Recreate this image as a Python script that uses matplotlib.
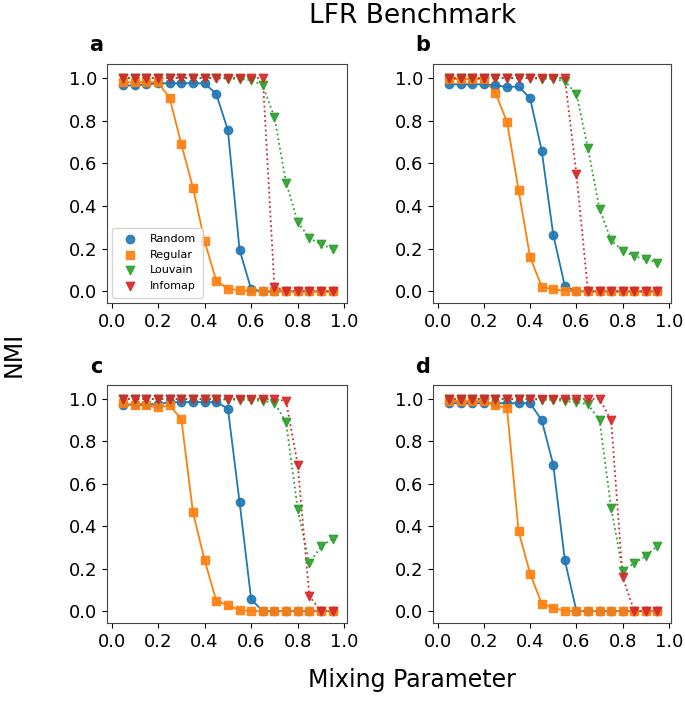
import numpy as np
import matplotlib
matplotlib.use('Agg')
import matplotlib.pyplot as plt

# Mixing parameter values (x axis)
mu = [0.05, 0.10, 0.15, 0.20, 0.25, 0.30, 0.35, 0.40, 0.45, 0.50,
      0.55, 0.60, 0.65, 0.70, 0.75, 0.80, 0.85, 0.90, 0.95]

# Panel a
a_random = [0.965, 0.965, 0.97, 0.975, 0.975, 0.975, 0.975, 0.975, 0.925, 0.755,
            0.195, 0.01, 0, 0, 0, 0, 0, 0, 0]
a_regular = [0.98, 0.98, 0.98, 0.98, 0.905, 0.69, 0.485, 0.235, 0.05, 0.012,
             0.005, 0, 0, 0, 0, 0, 0, 0, 0]
a_louvain = [1.0, 1.0, 1.0, 1.0, 1.0, 1.0, 1.0, 1.0, 0.998, 0.997,
             0.995, 0.99, 0.965, 0.815, 0.51, 0.325, 0.25, 0.22, 0.20]
a_infomap = [1.0, 1.0, 1.0, 1.0, 1.0, 1.0, 1.0, 1.0, 1.0, 1.0,
             1.0, 1.0, 1.0, 0.02, 0, 0, 0, 0, 0]

# Panel b
b_random = [0.97, 0.97, 0.97, 0.97, 0.965, 0.958, 0.96, 0.905, 0.66, 0.265,
            0.025, 0, 0, 0, 0, 0, 0, 0, 0]
b_regular = [0.995, 0.995, 0.995, 0.995, 0.93, 0.795, 0.475, 0.16, 0.022, 0.01,
             0.003, 0, 0, 0, 0, 0, 0, 0, 0]
b_louvain = [1.0, 1.0, 1.0, 1.0, 1.0, 1.0, 1.0, 0.998, 0.997, 0.995,
             0.985, 0.925, 0.67, 0.385, 0.24, 0.19, 0.165, 0.15, 0.135]
b_infomap = [1.0, 1.0, 1.0, 1.0, 1.0, 1.0, 1.0, 1.0, 1.0, 1.0,
             1.0, 0.55, 0, 0, 0, 0, 0, 0, 0]

# Panel c
c_random = [0.97, 0.975, 0.975, 0.975, 0.985, 0.985, 0.985, 0.985, 0.985, 0.955,
            0.515, 0.055, 0, 0, 0, 0, 0, 0, 0]
c_regular = [0.98, 0.97, 0.97, 0.96, 0.97, 0.905, 0.465, 0.24, 0.05, 0.027,
             0.005, 0, 0, 0, 0, 0, 0, 0, 0]
c_louvain = [1.0, 1.0, 1.0, 1.0, 1.0, 1.0, 1.0, 0.999, 0.998, 0.997,
             0.996, 0.995, 0.99, 0.983, 0.89, 0.48, 0.225, 0.305, 0.34]
c_infomap = [1.0, 1.0, 1.0, 1.0, 1.0, 1.0, 1.0, 1.0, 1.0, 1.0,
             1.0, 1.0, 1.0, 1.0, 0.99, 0.69, 0.07, 0, 0]

# Panel d
d_random = [0.98, 0.98, 0.98, 0.98, 0.98, 0.98, 0.98, 0.98, 0.90, 0.69,
            0.24, 0, 0, 0, 0, 0, 0, 0, 0]
d_regular = [0.99, 0.99, 0.99, 0.99, 0.97, 0.957, 0.377, 0.177, 0.035, 0.014,
             0.002, 0, 0, 0, 0, 0, 0, 0, 0]
d_louvain = [1.0, 1.0, 1.0, 1.0, 1.0, 1.0, 1.0, 0.998, 0.997, 0.995,
             0.99, 0.985, 0.975, 0.90, 0.486, 0.19, 0.226, 0.26, 0.307]
d_infomap = [1.0, 1.0, 1.0, 1.0, 1.0, 1.0, 1.0, 1.0, 1.0, 1.0,
             1.0, 1.0, 1.0, 1.0, 0.90, 0.16, 0, 0, 0]

paneles = {
    'a': (a_random, a_regular, a_louvain, a_infomap),
    'b': (b_random, b_regular, b_louvain, b_infomap),
    'c': (c_random, c_regular, c_louvain, c_infomap),
    'd': (d_random, d_regular, d_louvain, d_infomap),
}
nombres = ['Random', 'Regular', 'Louvain', 'Infomap']
colores = ['tab:blue', 'tab:orange', 'tab:green', 'tab:red']
marcadores = ['o', 's', 'v', 'v']
estilos = ['-', '-', ':', ':']
tamanos = [36, 34, 36, 36]

# posiciones de los ejes (fracciones de la figura)
posiciones = {
    'a': [0.156, 0.579, 0.350, 0.332],
    'b': [0.632, 0.579, 0.348, 0.332],
    'c': [0.156, 0.135, 0.350, 0.330],
    'd': [0.632, 0.135, 0.348, 0.330],
}

fig = plt.figure(figsize=(6.85, 7.2), dpi=100)

for letra, series in paneles.items():
    ax = fig.add_axes(posiciones[letra])
    for y, nombre, c, m, ls, s in zip(series, nombres, colores, marcadores, estilos, tamanos):
        ax.plot(mu, y, linestyle=ls, color=c, linewidth=1.3)
        ax.scatter(mu, y, marker=m, color=c, s=s, label=nombre, alpha=0.9, zorder=3)
    ax.set_xlim(-0.02, 1.01)
    ax.set_ylim(-0.055, 1.065)
    ax.set_xticks([0.0, 0.2, 0.4, 0.6, 0.8, 1.0])
    ax.set_yticks([0.0, 0.2, 0.4, 0.6, 0.8, 1.0])
    ax.tick_params(labelsize=13)
    for sp in ax.spines.values():
        sp.set_color('#444444')
    pos = posiciones[letra]
    fig.text(pos[0] - 0.015, pos[1] + pos[3] + 0.012, letra,
             fontsize=15, fontweight='bold', ha='center', va='bottom')
    if letra == 'a':
        ax.legend(loc='lower left', fontsize=8, borderpad=0.6)

fig.text(0.602, 0.978, 'LFR Benchmark', fontsize=19, ha='center', va='center')
fig.text(0.602, 0.055, 'Mixing Parameter', fontsize=17, ha='center', va='center')
fig.text(0.02, 0.508, 'NMI', fontsize=17, rotation=90, ha='center', va='center')

fig.savefig('out.png', dpi=100)
